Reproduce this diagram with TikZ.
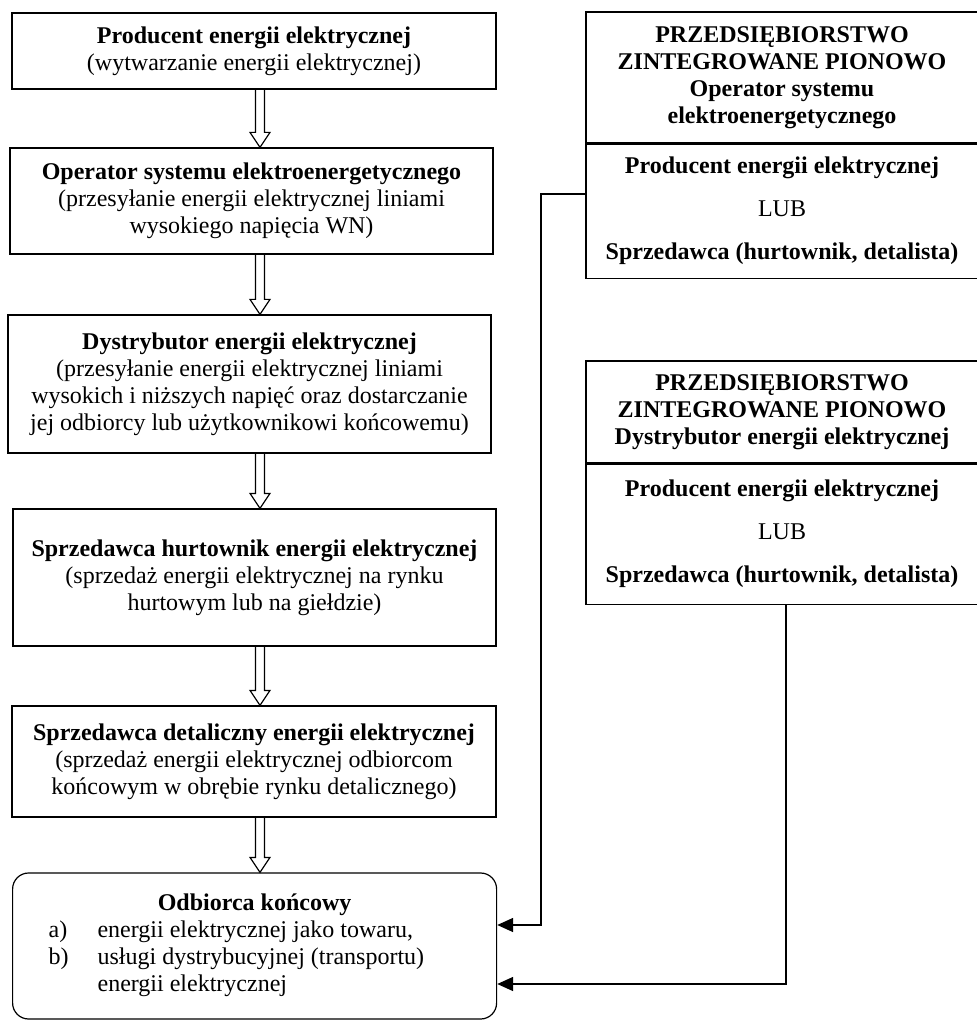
\documentclass[tikz,border=0pt]{standalone}
\usepackage{fontspec}
\setmainfont{Liberation Serif}
\usetikzlibrary{calc,arrows.meta}

% hollow block arrow from the bottom of #1 to the top of #2
\newcommand{\hollowarr}[2]{%
  \draw [black, line width=0.6pt] ($(#1.south -| ax)+(-4.5,0)$) -- ($(#2.north -| ax)+(-4.5,-15)$)
    -- ++(-5.5,0) -- (#2.north -| ax) -- ++(10,-15) -- ++(-5.5,0) -- ($(#1.south -| ax)+(4.5,0)$);}

\begin{document}
\begin{tikzpicture}[x=0.5pt, y=-0.5pt,
    every node/.style={font=\fontsize{12}{13.5}\selectfont},
    box/.style={draw=black, line width=0.6pt, align=center, inner sep=0pt},
    conn/.style={draw=black, line width=0.8pt, -{Triangle[length=8pt,width=7pt]}}]
		\useasboundingbox (0,0) rectangle (976,1020);
		\coordinate (ax) at (260,0);
		% main chain
		\node [box, minimum width=242pt, minimum height=38pt] (prod) at (254,51)
			{\textbf{Producent energii elektrycznej}\\(wytwarzanie energii elektrycznej)};
		\node [box, minimum width=241.5pt, minimum height=53pt] (oper) at (251.5,201)
			{\textbf{Operator systemu elektroenergetycznego}\\(przesyłanie energii elektrycznej liniami\\wysokiego napięcia WN)};
		\node [box, minimum width=241.5pt, minimum height=69pt] (dystr) at (249.5,384)
			{\textbf{Dystrybutor energii elektrycznej}\\(przesyłanie energii elektrycznej liniami\\wysokich i niższych napięć oraz dostarczanie\\jej odbiorcy lub użytkownikowi końcowemu)};
		\node [box, minimum width=241.5pt, minimum height=68.5pt] (hurt) at (254.5,577.5)
			{\textbf{Sprzedawca hurtownik energii elektrycznej}\\(sprzedaż energii elektrycznej na rynku\\hurtowym lub na giełdzie)};
		\node [box, minimum width=242pt, minimum height=55.5pt] (detal) at (254,761.5)
			{\textbf{Sprzedawca detaliczny energii elektrycznej}\\(sprzedaż energii elektrycznej odbiorcom\\końcowym w obrębie rynku detalicznego)};
		\node [box, rounded corners=8pt, minimum width=241.5pt, minimum height=73pt,
			inner xsep=18pt, anchor=west] (odb) at (12,946)
			{\begin{tabular}{@{}p{24.5pt}@{}p{181.5pt}@{}}
			\multicolumn{2}{@{}c@{}}{\textbf{Odbiorca końcowy}}\\
			a) & energii elektrycznej jako towaru,\\
			b) & usługi dystrybucyjnej (transportu)\\
			   & energii elektrycznej
			\end{tabular}};
		\foreach \a/\b in {prod/oper, oper/dystr, dystr/hurt, hurt/detal, detal/odb}
			\hollowarr{\a}{\b};
		% vertically integrated companies
		\node [box, minimum width=196pt, minimum height=65.5pt] (pion1) at (782,77.5)
			{\textbf{PRZEDSIĘBIORSTWO}\\\textbf{ZINTEGROWANE PIONOWO}\\\textbf{Operator systemu}\\\textbf{elektroenergetycznego}};
		\node [box, minimum width=196pt, minimum height=67pt, anchor=north] (pion1b) at (pion1.south)
			{\textbf{Producent energii elektrycznej}\\[8pt]LUB\\[8pt]\textbf{Sprzedawca (hurtownik, detalista)}};
		\node [box, minimum width=196pt, minimum height=51pt] (pion2) at (782,412)
			{\textbf{PRZEDSIĘBIORSTWO}\\\textbf{ZINTEGROWANE PIONOWO}\\\textbf{Dystrybutor energii elektrycznej}};
		\node [box, minimum width=196pt, minimum height=70pt, anchor=north] (pion2b) at (pion2.south)
			{\textbf{Producent energii elektrycznej}\\[8pt]LUB\\[8pt]\textbf{Sprzedawca (hurtownik, detalista)}};
		% connectors to the end customer
		\coordinate (k1) at (541,925);
		\coordinate (k2) at (786,984);
		\draw [conn] ($(pion1b.west)+(0,-17)$) -| (k1) -- (k1 -| odb.east);
		\draw [conn] (k2 |- pion2b.south) -- (k2) -- (k2 -| odb.east);
\end{tikzpicture}
\end{document}
